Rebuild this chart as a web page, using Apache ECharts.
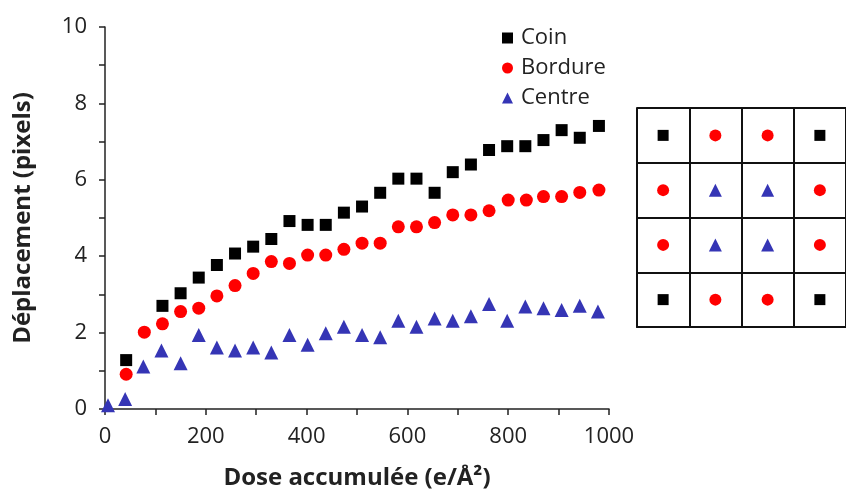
<!DOCTYPE html>
<html><head><meta charset="utf-8">
<script src="https://cdn.jsdelivr.net/npm/echarts@6/dist/echarts.min.js"></script>
<style>html,body{margin:0;padding:0;background:#fff}#c{width:846px;height:496px}</style>
</head><body><div id="c"></div>
<script>
// Data
const coinDose = [42,114,150,186,222,258,294,330,366,402,438,474,510,546,582,618,654,690,726,762,798,834,870,906,942,980];
const coinVal  = [1.28,2.70,3.03,3.44,3.77,4.07,4.25,4.45,4.92,4.82,4.82,5.14,5.30,5.66,6.03,6.03,5.66,6.20,6.40,6.78,6.88,6.88,7.04,7.30,7.10,7.41];
const bordDose = [42,78,114,150,186,222,258,294,330,366,402,438,474,510,546,582,618,654,690,726,762,800,836,870,906,942,980];
const bordVal  = [0.91,2.01,2.23,2.55,2.64,2.96,3.23,3.55,3.86,3.81,4.03,4.03,4.18,4.34,4.34,4.77,4.77,4.88,5.08,5.08,5.19,5.47,5.47,5.56,5.56,5.67,5.73];
const centDose = [6,40,76,112,150,186,222,258,294,330,366,402,438,474,510,546,582,618,654,690,726,762,798,834,870,906,942,978];
const centVal  = [0.10,0.26,1.11,1.53,1.20,1.94,1.61,1.53,1.61,1.48,1.94,1.68,1.98,2.15,1.94,1.88,2.31,2.15,2.37,2.31,2.43,2.75,2.31,2.68,2.64,2.59,2.70,2.55];
const seriesNames = ['Coin','Bordure','Centre'];
const xTicks = [0,200,400,600,800,1000];
const yTicks = [0,2,4,6,8,10];
// Inset 4x4 layout: C = Coin, B = Bordure, M = Centre (rows top to bottom)
const insetLayout = [
  ['C','B','B','C'],
  ['B','M','M','B'],
  ['B','M','M','B'],
  ['C','B','B','C']
];

const FONT = 'Open Sans';
const colors = {Coin:'#000000', Bordure:'#ff0000', Centre:'#3535b5'};
const symbols = {Coin:'rect', Bordure:'circle', Centre:'triangle'};
const zip = (a,b)=>a.map((v,i)=>[v,b[i]]);

const insetData = {C:[],B:[],M:[]};
insetLayout.forEach((row,r)=>row.forEach((k,c)=>insetData[k].push([c+0.5, 3.5-r])));

const tickStyle = {color:'#222', width:1.5};
const chart = echarts.init(document.getElementById('c'));
chart.setOption({
  animation:false,
  textStyle:{fontFamily:FONT},
  grid:[
    {left:105, top:27, width:504, height:382},
    {left:637, top:108, width:220, height:219}
  ],
  legend:{
    data:seriesNames, orient:'vertical', left:497, top:22, itemGap:8,
    itemWidth:11, itemHeight:11,
    textStyle:{fontFamily:FONT, fontSize:22, color:'#222', padding:[0,0,0,3]}
  },
  xAxis:[
    {gridIndex:0, type:'value', min:xTicks[0], max:xTicks[xTicks.length-1], interval:xTicks[1]-xTicks[0],
     axisLine:{show:true, onZero:false, lineStyle:tickStyle},
     axisTick:{show:true, length:6, lineStyle:tickStyle},
     minorTick:{show:true, splitNumber:2, length:6, lineStyle:tickStyle},
     splitLine:{show:false},
     axisLabel:{fontSize:22, color:'#222', margin:17, fontFamily:FONT, formatter:v=>String(v)},
     name:'Dose accumulée (e/Å²)', nameLocation:'middle', nameGap:57,
     nameTextStyle:{fontSize:24, fontWeight:'bold', color:'#222', fontFamily:FONT}},
    {gridIndex:1, type:'value', min:0, max:4, interval:1,
     axisLine:{show:true, lineStyle:{color:'#111', width:2}},
     axisTick:{show:false}, axisLabel:{show:false},
     splitLine:{show:true, lineStyle:{color:'#111', width:2}}}
  ],
  yAxis:[
    {gridIndex:0, type:'value', min:yTicks[0], max:yTicks[yTicks.length-1], interval:yTicks[1]-yTicks[0],
     axisLine:{show:true, onZero:false, lineStyle:tickStyle},
     axisTick:{show:true, length:6, lineStyle:tickStyle},
     minorTick:{show:true, splitNumber:2, length:6, lineStyle:tickStyle},
     splitLine:{show:false},
     axisLabel:{fontSize:22, color:'#222', margin:18, fontFamily:FONT},
     name:'Déplacement (pixels)', nameLocation:'middle', nameGap:70,
     nameTextStyle:{fontSize:24, fontWeight:'bold', color:'#222', fontFamily:FONT}},
    {gridIndex:1, type:'value', min:0, max:4, interval:1,
     axisLine:{show:true, lineStyle:{color:'#111', width:2}},
     axisTick:{show:false}, axisLabel:{show:false},
     splitLine:{show:true, lineStyle:{color:'#111', width:2}}}
  ],
  series:[
    {name:'Coin', type:'scatter', xAxisIndex:0, yAxisIndex:0, data:zip(coinDose,coinVal),
     symbol:symbols.Coin, symbolSize:12, itemStyle:{color:colors.Coin, opacity:1}, z:3},
    {name:'Bordure', type:'scatter', xAxisIndex:0, yAxisIndex:0, data:zip(bordDose,bordVal),
     symbol:symbols.Bordure, symbolSize:13, itemStyle:{color:colors.Bordure, opacity:1}, z:3},
    {name:'Centre', type:'scatter', xAxisIndex:0, yAxisIndex:0, data:zip(centDose,centVal),
     symbol:symbols.Centre, symbolSize:14, itemStyle:{color:colors.Centre, opacity:1}, z:3},
    {type:'scatter', xAxisIndex:1, yAxisIndex:1, data:insetData.C, symbol:'rect', symbolSize:11,
     itemStyle:{color:colors.Coin, opacity:1}, silent:true},
    {type:'scatter', xAxisIndex:1, yAxisIndex:1, data:insetData.B, symbol:'circle', symbolSize:12,
     itemStyle:{color:colors.Bordure, opacity:1}, silent:true},
    {type:'scatter', xAxisIndex:1, yAxisIndex:1, data:insetData.M, symbol:'triangle', symbolSize:13,
     itemStyle:{color:colors.Centre, opacity:1}, silent:true}
  ]
});
</script></body></html>
